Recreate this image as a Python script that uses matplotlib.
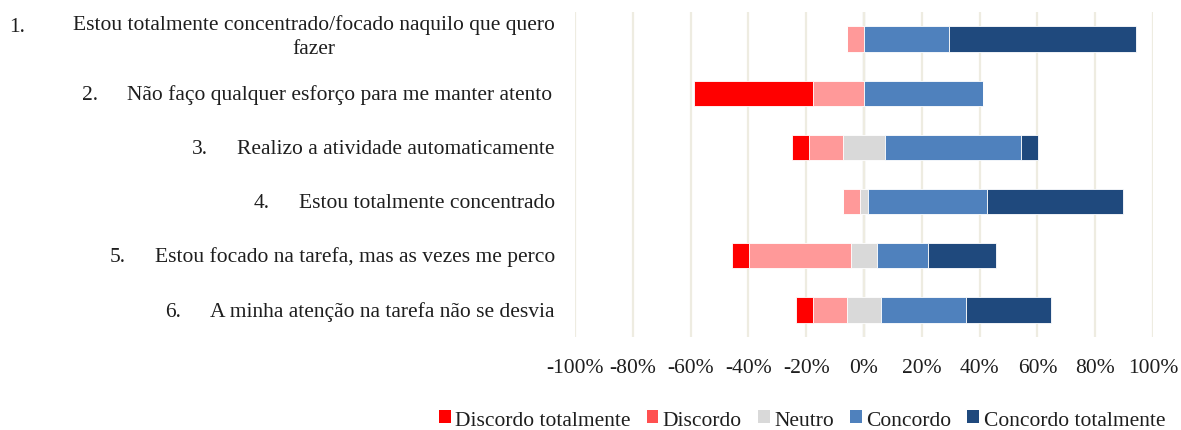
import matplotlib.pyplot as plt
from matplotlib.patches import Patch
import numpy as np

plt.rcParams['font.family'] = ['Liberation Serif', 'DejaVu Serif']

# perguntas (de cima para baixo)
numeros = ['1.', '2.', '3.', '4.', '5.', '6.']
perguntas = ['Estou totalmente concentrado/focado naquilo que quero\nfazer',
             'Não faço qualquer esforço para me manter atento',
             'Realizo a atividade automaticamente',
             'Estou totalmente concentrado',
             'Estou focado na tarefa, mas as vezes me perco',
             'A minha atenção na tarefa não se desvia']

# percentagens
discordo_tot = [0, 41.2, 5.9, 0, 5.9, 5.9]
discordo = [5.9, 17.6, 11.8, 5.9, 35.3, 11.8]
neutro = [0, 0, 14.7, 2.9, 8.8, 11.8]  # largura visível, centrada no zero
concordo = [29.4, 41.2, 47.1, 41.2, 17.6, 29.4]
concordo_tot = [64.7, 0, 5.9, 47.1, 23.5, 29.4]

series = ['Discordo totalmente', 'Discordo', 'Neutro', 'Concordo', 'Concordo totalmente']
cores_barra = ['#FF0000', '#FF9999', '#D9D9D9', '#4F81BD', '#1F497D']
cores_legenda = ['#FF0000', '#FF5050', '#D9D9D9', '#4F81BD', '#1F497D']

fs = 15.5
cor_txt = '#1E1E1E'

fig = plt.figure(figsize=(11.81, 4.31), dpi=100)
ax = fig.add_axes([0.4869, 0.2158, 0.4894, 0.754])

y = np.arange(len(perguntas))
dt = np.array(discordo_tot)
d = np.array(discordo)
n = np.array(neutro)
c = np.array(concordo)
ct = np.array(concordo_tot)

h = 0.47
kw = dict(height=h, edgecolor='white', linewidth=0.6, zorder=3)
ax.barh(y, n, left=-n / 2, color=cores_barra[2], **kw)
ax.barh(y, -d, left=-n / 2, color=cores_barra[1], **kw)
ax.barh(y, -dt, left=-n / 2 - d, color=cores_barra[0], **kw)
ax.barh(y, c, left=n / 2, color=cores_barra[3], **kw)
ax.barh(y, ct, left=n / 2 + c, color=cores_barra[4], **kw)

ax.set_xlim(-100, 100)
ax.set_ylim(len(perguntas) - 0.5, -0.5)
ticks = np.arange(-100, 101, 20)
ax.set_xticks(ticks)
ax.set_xticklabels(['%d%%' % t for t in ticks], fontsize=fs, color=cor_txt)
ax.tick_params(axis='x', length=0, pad=15)
ax.set_yticks([])
ax.grid(axis='x', color='#EEECE1', linewidth=1.6, zorder=0)
ax.axvline(0, color='#D0D0D0', linewidth=1.6, zorder=1)
for s in ax.spines.values():
    s.set_visible(False)

# rótulos das perguntas
base = 0.105  # deslocamento da linha de base
for i in range(len(perguntas)):
    if '\n' in perguntas[i]:
        # com várias linhas a linha de base é a da última linha
        ax.text(-0.035, y[i] + 0.26, perguntas[i], transform=ax.get_yaxis_transform(),
                ha='right', va='baseline', multialignment='center', fontsize=fs,
                color=cor_txt, linespacing=1.35)
        fig.text(0.008, 1 - 32 / 431, numeros[i], fontsize=fs, color=cor_txt,
                 ha='left', va='baseline')
    else:
        t = ax.text(-0.04 if i == 1 else -0.035, y[i] + base, perguntas[i],
                    transform=ax.get_yaxis_transform(),
                    ha='right', va='baseline', fontsize=fs, color=cor_txt)
        ax.annotate(numeros[i], xy=(0, y[i] + base), xycoords=(t, 'data'),
                    xytext=(-21, 0), textcoords='offset points', ha='right',
                    va='baseline', fontsize=fs, color=cor_txt)

handles = [Patch(facecolor=cores_legenda[k], label=series[k]) for k in range(5)]
fig.legend(handles=handles, loc='center', bbox_to_anchor=(0.679, 1 - 421 / 431), ncol=5,
           frameon=False, fontsize=fs, handlelength=0.55, handleheight=0.55,
           handletextpad=0.2, columnspacing=0.75, labelcolor=cor_txt)

fig.savefig('out.png', dpi=100)
